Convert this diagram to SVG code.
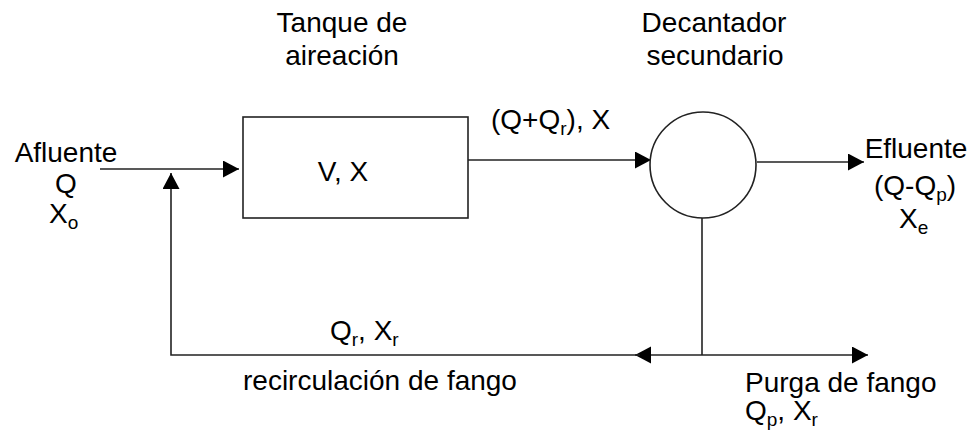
<svg xmlns="http://www.w3.org/2000/svg" width="974" height="433" viewBox="0 0 974 433">
<defs>
<style>
text{font-family:"Liberation Sans",Arial,sans-serif;font-size:28px;fill:#000}
.sub{font-size:19px}
.ln{fill:none;stroke:#222;stroke-width:1.6}
.shape{fill:#fff;stroke:#222;stroke-width:1.6}
</style>
<marker id="ah" markerUnits="userSpaceOnUse" markerWidth="17" markerHeight="18" refX="16" refY="8.5" orient="auto">
<path d="M0,0 L16,8.5 L0,17 Z" fill="#000"/>
</marker>
</defs>
<g id="connectors">
<path class="ln" d="M100,169 H239" marker-end="url(#ah)"/>
<path class="ln" d="M468,160 H651" marker-end="url(#ah)"/>
<path class="ln" d="M757,162 H864" marker-end="url(#ah)"/>
<path class="ln" d="M702,218 V355"/>
<path class="ln" d="M702,355 H635" marker-end="url(#ah)"/>
<path class="ln" d="M640,355 H171 V173" marker-end="url(#ah)"/>
<path class="ln" d="M702,355 H868" marker-end="url(#ah)"/>
</g>
<g id="tanque">
<rect class="shape" x="243" y="117" width="225" height="101"/>
<text x="343" y="181" text-anchor="middle">V, X</text>
<text x="342" y="32" text-anchor="middle">Tanque de</text>
<text x="342" y="65" text-anchor="middle">aireación</text>
</g>
<g id="decantador">
<circle class="shape" cx="703" cy="165" r="53"/>
<text x="714" y="32" text-anchor="middle">Decantador</text>
<text x="715" y="65" text-anchor="middle">secundario</text>
</g>
<g id="afluente">
<text x="66" y="162" text-anchor="middle">Afluente</text>
<text x="66" y="193" text-anchor="middle">Q</text>
<text x="49" y="223">X<tspan class="sub" dy="6">o</tspan></text>
</g>
<g id="efluente">
<text x="916" y="158" text-anchor="middle">Efluente</text>
<text x="874" y="195">(Q-Q<tspan class="sub" dy="6">p</tspan><tspan dy="-6">)</tspan></text>
<text x="899" y="228">X<tspan class="sub" dy="6">e</tspan></text>
</g>
<g id="labels">
<text x="491" y="129">(Q+Q<tspan class="sub" dy="6">r</tspan><tspan dy="-6">), X</tspan></text>
<text x="330" y="340">Q<tspan class="sub" dy="6">r</tspan><tspan dy="-6">, X</tspan><tspan class="sub" dy="6">r</tspan></text>
<text x="243" y="390">recirculación de fango</text>
</g>
<g id="purga">
<text x="745" y="392">Purga de fango</text>
<text x="745" y="420">Q<tspan class="sub" dy="6">p</tspan><tspan dy="-6">, X</tspan><tspan class="sub" dy="6">r</tspan></text>
</g>
</svg>
